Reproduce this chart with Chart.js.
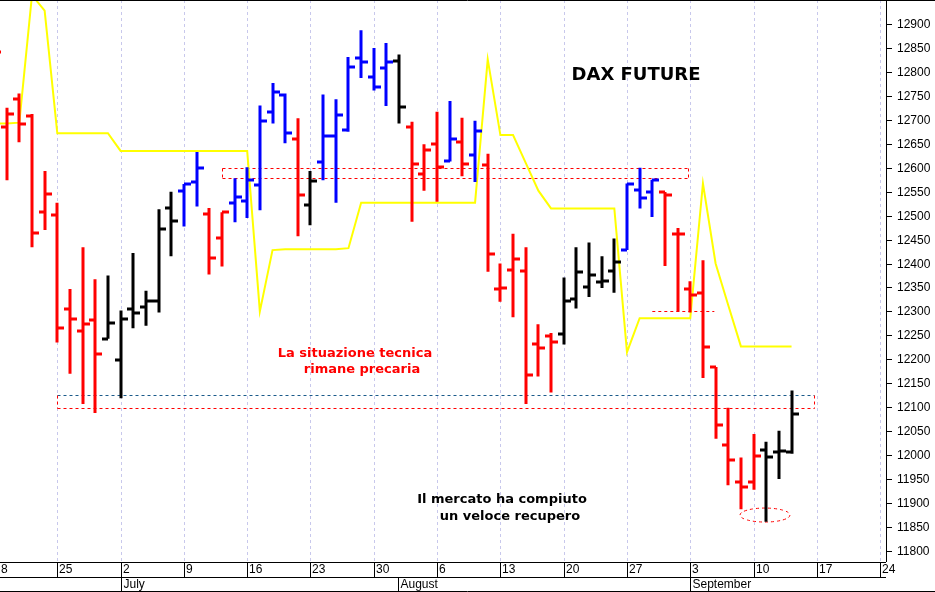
<!DOCTYPE html>
<html><head><meta charset="utf-8">
<script src="https://cdn.jsdelivr.net/npm/chart.js@4/dist/chart.umd.min.js"></script>
<style>html,body{margin:0;padding:0;background:#fff}#w{width:935px;height:592px}</style>
</head><body><div id="w"><canvas id="c"></canvas></div>
<script>
const opens  = [12860,12684,12743,12708,12507,12501,12306,12260,12282,12243,12199,12306,12310,12322,12516,12552,12570,12504,12454,12526,12530,12564,12716,12751,12659,12522,12612,12666,12678,12828,12790,12808,12822,12684,12586,12649,12613,12654,12627,12605,12347,12386,12385,12233,12248,12253,12326,12352,12361,12385,12428,12554,12549,12549,12461,12347,12339,12184,12022,11945,11945,12010,12006,12006];
const highs  = [12880,12725,12755,12712,12593,12527,12347,12434,12367,12375,12302,12422,12343,12513,12550,12566,12633,12516,12507,12578,12601,12730,12777,12755,12703,12593,12753,12743,12831,12887,12850,12860,12836,12696,12649,12717,12739,12704,12698,12629,12400,12462,12434,12273,12255,12371,12434,12444,12415,12452,12567,12600,12575,12549,12474,12363,12407,12184,12099,11995,12044,12028,12051,12135];
const lows   = [12800,12574,12653,12434,12470,12235,12170,12107,12088,12243,12119,12265,12270,12298,12415,12477,12519,12377,12394,12486,12495,12511,12692,12651,12457,12480,12574,12527,12675,12787,12761,12729,12692,12487,12552,12529,12613,12582,12570,12383,12320,12288,12107,12164,12131,12231,12306,12330,12349,12339,12428,12515,12497,12395,12300,12298,12161,12034,11937,11887,11928,11861,11950,12003];
const closes = [12842,12712,12692,12463,12545,12266,12284,12273,12211,12276,12285,12296,12322,12473,12489,12566,12599,12411,12507,12538,12575,12698,12757,12672,12544,12572,12666,12710,12810,12820,12769,12820,12726,12607,12637,12601,12660,12608,12676,12420,12349,12410,12168,12223,12237,12322,12383,12377,12363,12404,12566,12536,12574,12543,12461,12335,12225,12062,11989,11934,11999,11997,12009,12085];
const barColors = "RRRRRRRRRKKKKKKBBRRBBBBBRKBBBBBBKRRRBRBRRRRRRKKKKKBBBRRRRRRRRKKK";
const trendLine = [12692,12692,12694,12960,12928,12672,12672,12672,12672,12672,12635,12635,12635,12635,12635,12635,12635,12635,12635,12635,12635,12300,12428,12430,12430,12430,12430,12430,12432,12527,12527,12527,12527,12527,12527,12527,12527,12527,12527,12826,12668,12668,12610,12552,12515,12515,12515,12515,12515,12515,12215,12286,12286,12286,12286,12286,12567,12400,12313,12227,12227,12227,12227,12227];
const weekLabels = ['18','25','2','9','16','23','30','6','13','20','27','3','10','17','24'];
const months = [['July',10],['August',31.9],['September',55]];
const yTicks = [11800,11850,11900,11950,12000,12050,12100,12150,12200,12250,12300,12350,12400,12450,12500,12550,12600,12650,12700,12750,12800,12850,12900];

const colMap = {R:'#ff0000',K:'#000000',B:'#0000ff'};
const idx = trendLine.map((_,i)=>i);

const draw = {
  id:'draw',
  beforeDatasetsDraw(ch){
    const {ctx,scales:{x,y},chartArea:a}=ch;
    ctx.save();
    ctx.beginPath();ctx.rect(a.left,a.top,a.right-a.left,a.bottom-a.top);ctx.clip();
    ctx.setLineDash([3,3]);ctx.lineWidth=1;
    ctx.strokeStyle='#c8c8ec';ctx.beginPath();
    for(let k=1;k<weekLabels.length;k++){const px=Math.round(x.getPixelForValue(k*5))+.5;ctx.moveTo(px,a.top);ctx.lineTo(px,a.bottom);}
    ctx.stroke();
    const box=(x0,x1,v0,v1,topCol,botCol)=>{
      const X0=Math.round(x.getPixelForValue(x0))+.5,X1=Math.round(x.getPixelForValue(x1))+.5,Y0=Math.round(y.getPixelForValue(v0))+.5,Y1=Math.round(y.getPixelForValue(v1))+.5;
      ctx.strokeStyle=topCol;ctx.beginPath();ctx.moveTo(X0,Y0);ctx.lineTo(X1,Y0);ctx.stroke();
      ctx.strokeStyle=botCol;ctx.beginPath();ctx.moveTo(X0,Y1);ctx.lineTo(X1,Y1);ctx.moveTo(X0,Y0);ctx.lineTo(X0,Y1);ctx.moveTo(X1,Y0);ctx.lineTo(X1,Y1);ctx.stroke();
    };
    box(18.0,54.8,12599,12579,'#ff0000','#ff0000');
    box(5.0,64.8,12126,12099,'#1a5a8a','#ff0000');
    ctx.strokeStyle='#ff0000';ctx.beginPath();
    const yy=Math.round(y.getPixelForValue(12301))+.5;
    ctx.moveTo(x.getPixelForValue(52),yy);ctx.lineTo(x.getPixelForValue(56.9),yy);ctx.stroke();
    ctx.beginPath();ctx.ellipse(x.getPixelForValue(60.9),y.getPixelForValue(11875),25,7,0,0,Math.PI*2);ctx.stroke();
    ctx.restore();
  },
  afterDatasetsDraw(ch){
    const {ctx,scales:{x,y},chartArea:a}=ch;
    ctx.save();
    ctx.beginPath();ctx.rect(a.left,a.top,a.right-a.left,a.bottom-a.top);ctx.clip();
    ctx.lineWidth=3;ctx.lineCap='butt';
    for(let i=0;i<opens.length;i++){
      const px=Math.round(x.getPixelForValue(i));
      ctx.strokeStyle=colMap[barColors[i]];
      ctx.beginPath();
      ctx.moveTo(px,y.getPixelForValue(highs[i]));ctx.lineTo(px,y.getPixelForValue(lows[i]));
      const yo=Math.round(y.getPixelForValue(opens[i])),yc=Math.round(y.getPixelForValue(closes[i]));
      ctx.moveTo(px-6,yo);ctx.lineTo(px,yo);
      ctx.moveTo(px,yc);ctx.lineTo(px+7,yc);
      ctx.stroke();
    }
    ctx.restore();
    ctx.save();
    ctx.textAlign='center';ctx.textBaseline='middle';
    ctx.fillStyle='#000';ctx.font='bold 18px "DejaVu Sans"';
    ctx.fillText('DAX FUTURE',636,75);
    ctx.fillStyle='#ff0000';ctx.font='bold 13px "DejaVu Sans"';
    ctx.fillText('La situazione tecnica',355,354);
    ctx.fillText('rimane precaria',362,370);
    ctx.fillStyle='#000';
    ctx.fillText('Il mercato ha compiuto',502,500);
    ctx.fillText('un veloce recupero',510,517);
    ctx.strokeStyle='#000';ctx.lineWidth=1;
    ctx.beginPath();
    ctx.moveTo(0,0.5);ctx.lineTo(935,0.5);
    ctx.moveTo(a.right+.5,0);ctx.lineTo(a.right+.5,a.bottom);
    ctx.moveTo(0,a.bottom+.5);ctx.lineTo(a.right,a.bottom+.5);
    ctx.moveTo(0,577.5);ctx.lineTo(a.right,577.5);
    ctx.moveTo(0,591.5);ctx.lineTo(935,591.5);
    for(let k=1;k<weekLabels.length;k++){const px=Math.round(x.getPixelForValue(k*5))+.5;if(px<a.right){ctx.moveTo(px,a.bottom);ctx.lineTo(px,577);}}
    for(const v of yTicks){const py=Math.round(y.getPixelForValue(v))+.5;ctx.moveTo(a.right,py);ctx.lineTo(a.right+6,py);}
    ctx.stroke();
    ctx.font='12px "Liberation Sans"';ctx.textAlign='left';ctx.fillStyle='#000';
    for(const v of yTicks){ctx.fillText(String(v),a.right+11,Math.round(y.getPixelForValue(v))+1);}
    ctx.fillText('8',1,570);
    for(let k=1;k<weekLabels.length;k++){const px=Math.round(x.getPixelForValue(k*5));if(px<a.right-2)ctx.fillText(weekLabels[k],px+2,570);}
    for(const [m,v] of months){const px=Math.round(x.getPixelForValue(v))+.5;ctx.beginPath();ctx.moveTo(px,577);ctx.lineTo(px,592);ctx.stroke();ctx.fillText(m,px+2,585);}
    ctx.restore();
  }
};

new Chart(document.getElementById('c'),{
  type:'line',
  data:{labels:idx,datasets:[{data:trendLine.map((v,i)=>({x:i,y:v})),borderColor:'#ffff00',borderWidth:2,pointRadius:0,tension:0}]},
  options:{
    responsive:true,maintainAspectRatio:false,animation:false,
    layout:{padding:0},
    plugins:{legend:{display:false},tooltip:{enabled:false}},
    scales:{
      x:{type:'linear',min:0.474,max:70.46,
        afterFit(s){s.height=30;},
        ticks:{display:false},
        grid:{display:false},
        border:{display:false}},
      y:{position:'right',min:11777,max:12950,
        afterFit(s){s.width=49;},
        ticks:{display:false},
        grid:{display:false},
        border:{display:false}}
    }
  },
  plugins:[draw]
});
</script></body></html>
